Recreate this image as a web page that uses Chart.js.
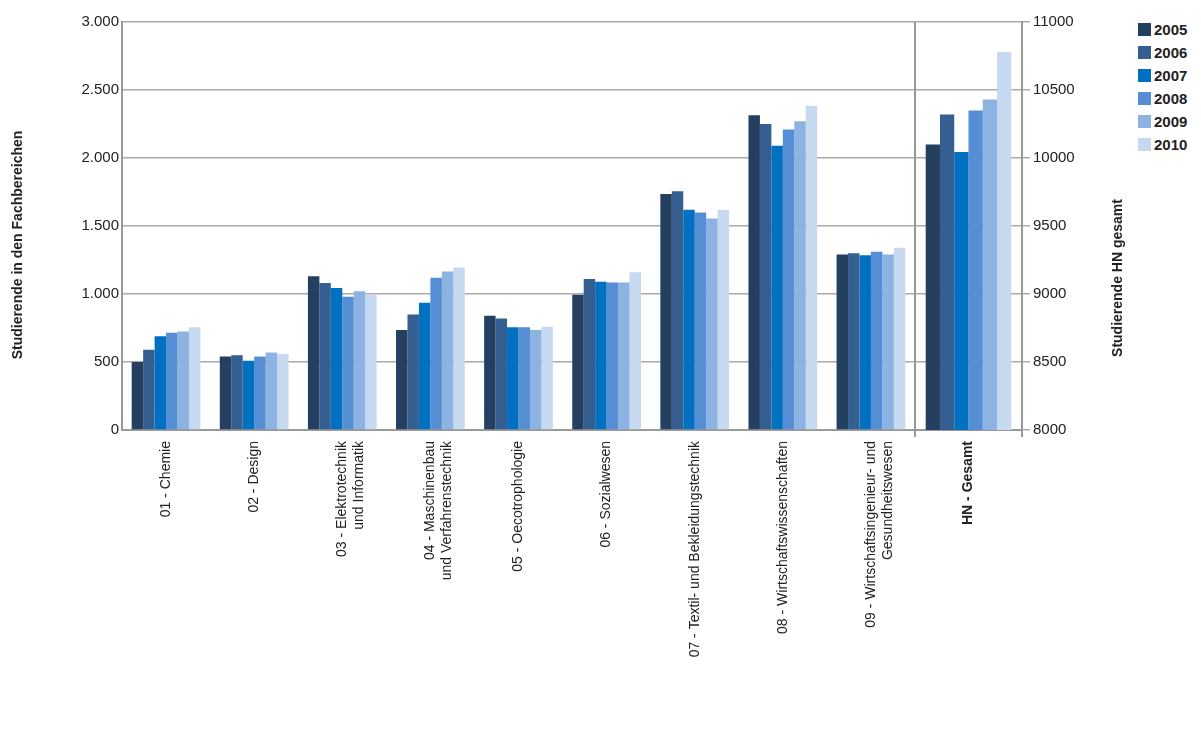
<!DOCTYPE html>
<html><head><meta charset="utf-8">
<script src="https://cdn.jsdelivr.net/npm/chart.js@4"></script>
<style>
body{margin:0;background:#fff;width:1201px;height:746px;overflow:hidden;position:relative;font-family:"Liberation Sans",Arial,sans-serif}
#c1{position:absolute;left:0;top:0}
#c2{position:absolute;left:900px;top:0}
#leg{position:absolute;left:1138px;top:18px;font-weight:bold;font-size:15px;color:#222}
#leg div{height:23px;display:flex;align-items:center}
#leg span{display:inline-block;width:13px;height:13px;margin-right:3px}
</style></head><body>
<canvas id="c1" width="915" height="746"></canvas>
<canvas id="c2" width="230" height="746"></canvas>
<div id="leg"></div>
<script>
const years=["2005","2006","2007","2008","2009","2010"];
const colors=["#253f61","#365f91","#0070c0","#558ed5","#8db3e2","#c6d9f1"];
const categories=[["01 - Chemie"],["02 - Design"],["03 - Elektrotechnik","und Informatik"],["04 - Maschinenbau","und Verfahrenstechnik"],["05 - Oecotrophologie"],["06 - Sozialwesen"],["07 - Textil- und Bekleidungstechnik"],["08 - Wirtschaftswissenschaften"],["09 - Wirtschaftsingenieur- und","Gesundheitswesen"]];
const v2005=[500,540,1130,735,840,995,1735,2315,1290];
const v2006=[590,550,1080,850,820,1110,1755,2250,1300];
const v2007=[690,510,1045,935,755,1090,1620,2090,1285];
const v2008=[715,540,980,1120,755,1085,1600,2210,1310];
const v2009=[725,570,1020,1165,735,1085,1555,2270,1290];
const v2010=[755,560,995,1195,760,1160,1620,2385,1340];
const totalLabel="HN - Gesamt";
const totals=[10100,10320,10045,10350,10430,10780];
const series=[v2005,v2006,v2007,v2008,v2009,v2010];
const font={family:"Liberation Sans",size:14};
const tickColor="#222";
function vTitle(text,x,y){return {id:'vt',afterDraw(c){const g=c.ctx;g.save();g.translate(x,y);g.rotate(-Math.PI/2);g.font='bold 14px "Liberation Sans"';g.fillStyle='#222';g.textAlign='center';g.textBaseline='middle';g.fillText(text,0,0);g.restore();}};}
const sepPlugin={id:'sep',afterDraw(c){const g=c.ctx,a=c.chartArea;g.save();g.strokeStyle='#999';g.lineWidth=2;g.beginPath();g.moveTo(a.left,a.top);g.lineTo(a.left,a.bottom+7);g.moveTo(a.right,a.bottom);g.lineTo(a.right,a.bottom+7);g.stroke();g.restore();}};
new Chart(document.getElementById('c1'),{type:'bar',
 data:{labels:categories,datasets:series.map((d,i)=>({label:years[i],data:d,backgroundColor:colors[i],categoryPercentage:0.78,barPercentage:1}))},
 options:{responsive:false,animation:false,layout:{padding:{top:22,right:0,left:0,bottom:0}},
  plugins:{legend:{display:false},tooltip:{enabled:false}},
  scales:{
   x:{grid:{display:false},border:{color:'#999',width:2},ticks:{color:tickColor,font,maxRotation:90,minRotation:90,autoSkip:false},afterFit(s){s.height=316;}},
   y:{min:0,max:3000,ticks:{stepSize:500,color:tickColor,font:{family:"Liberation Sans",size:15},callback:v=>v.toLocaleString('de-DE')},
      grid:{color:'#aaa',lineWidth:1.5,drawTicks:false},border:{color:'#999',width:2},
      afterFit(s){s.width=122;}}}},
 plugins:[vTitle('Studierende in den Fachbereichen',18,245)]});
new Chart(document.getElementById('c2'),{type:'bar',
 data:{labels:[totalLabel],datasets:totals.map((t,i)=>({label:years[i],data:[t],backgroundColor:colors[i],categoryPercentage:0.8,barPercentage:1}))},
 options:{responsive:false,animation:false,layout:{padding:{top:22,left:15,right:0,bottom:0}},
  plugins:{legend:{display:false},tooltip:{enabled:false}},
  scales:{
   x:{grid:{display:false},border:{color:'#999',width:2},ticks:{color:tickColor,font:{family:"Liberation Sans",size:14,weight:'bold'},maxRotation:90,minRotation:90},afterFit(s){s.height=316;}},
   y:{position:'right',min:8000,max:11000,ticks:{stepSize:500,color:tickColor,font:{family:"Liberation Sans",size:15},callback:v=>String(v)},
      grid:{color:'#aaa',lineWidth:1.5},border:{color:'#999',width:2},
      afterFit(s){s.width=108;}}}},
 plugins:[sepPlugin,vTitle('Studierende HN gesamt',218,278)]});
const leg=document.getElementById('leg');
years.forEach((y,i)=>{const d=document.createElement('div');d.innerHTML='<span style="background:'+colors[i]+'"></span>'+y;leg.appendChild(d);});
</script></body></html>
